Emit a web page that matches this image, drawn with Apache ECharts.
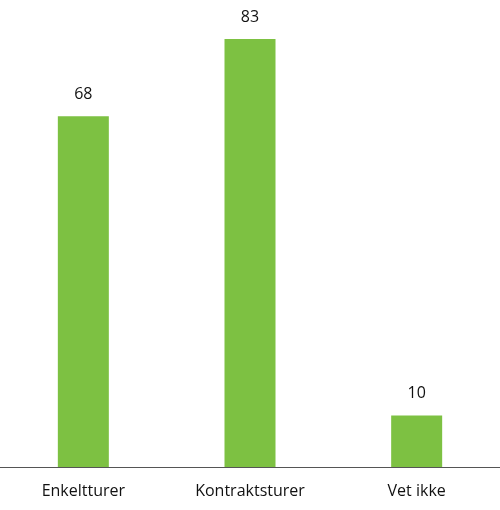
<!DOCTYPE html>
<html><head><meta charset="utf-8">
<script src="https://cdn.jsdelivr.net/npm/echarts@6/dist/echarts.min.js"></script>
<style>html,body{margin:0;padding:0;background:#fff}#c{width:500px;height:510px}</style>
</head><body><div id="c"></div>
<script>
const categories = ["Enkeltturer", "Kontraktsturer", "Vet ikke"];
const values = [68, 83, 10];
const chart = echarts.init(document.getElementById('c'));
chart.setOption({
  animation: false,
  grid: {left: 0, right: 0, top: 39, bottom: 43},
  xAxis: {
    type: 'category', data: categories,
    axisLine: {lineStyle: {color: '#555', width: 1}},
    axisTick: {show: false},
    axisLabel: {color: '#111', fontSize: 16, fontFamily: 'Open Sans', margin: 16}
  },
  yAxis: {type: 'value', min: 0, max: 83, show: false, splitLine: {show: false}},
  series: [{
    type: 'bar', data: values, barWidth: 51,
    itemStyle: {color: '#7dc142'},
    label: {show: true, position: 'top', distance: 14, color: '#111', fontSize: 16, fontFamily: 'Open Sans'}
  }]
});
</script></body></html>
